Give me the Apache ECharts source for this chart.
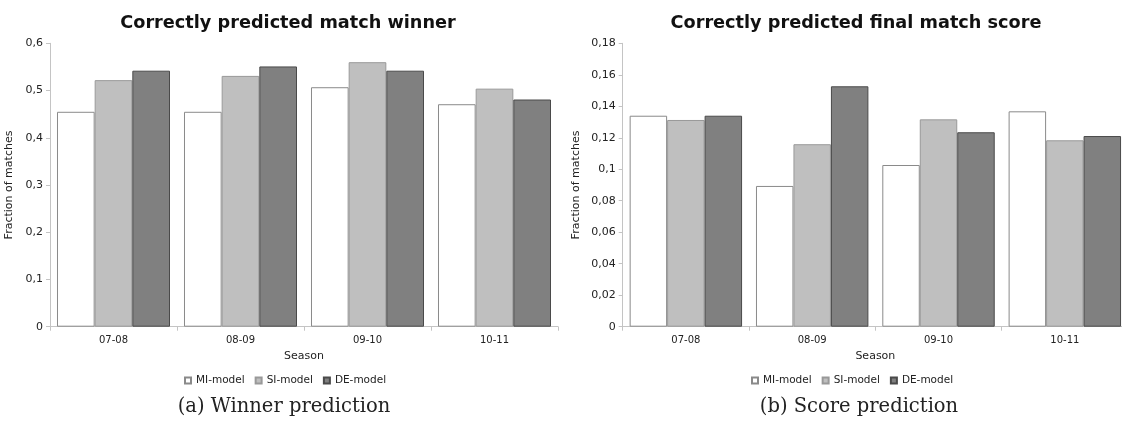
<!DOCTYPE html>
<html><head><meta charset="utf-8">
<script src="https://cdn.jsdelivr.net/npm/echarts@6/dist/echarts.min.js"></script>
<style>html,body{margin:0;padding:0;background:#fff;overflow:hidden}#c{width:1130px;height:425px}</style>
</head><body><div id="c"></div>
<script>
const seasons = ['07-08','08-09','09-10','10-11'];
const winnerMI = [0.455, 0.455, 0.507, 0.471];
const winnerSI = [0.522, 0.531, 0.560, 0.504];
const winnerDE = [0.542, 0.551, 0.542, 0.481];
const scoreMI = [0.134, 0.0894, 0.1027, 0.1368];
const scoreSI = [0.1313, 0.1159, 0.1317, 0.1184];
const scoreDE = [0.134, 0.1527, 0.1235, 0.1211];
const seriesNames = ['MI-model','SI-model','DE-model'];

const fmt = v => v === 0 ? '0' : String(Math.round(v*1000)/1000).replace('.', ',');
const styles = [
  {color:'#ffffff', borderColor:'#8a8a8a', borderWidth:1},
  {color:'#bfbfbf', borderColor:'#999999', borderWidth:1},
  {color:'#808080', borderColor:'#4a4a4a', borderWidth:1}
];
const font = '"DejaVu Sans", Arial, sans-serif';
function xAx(gi){ return {
  type:'category', gridIndex:gi, data:seasons, name:'Season', nameLocation:'middle', nameGap:24,
  nameTextStyle:{fontFamily:font,fontSize:11,color:'#222'},
  axisLine:{lineStyle:{color:'#c4c4c4'}}, axisTick:{show:true,length:4,lineStyle:{color:'#c4c4c4'}},
  axisLabel:{fontFamily:font,fontSize:10,color:'#222',margin:9}
};}
function yAx(gi,max,interval,gap){ return {
  type:'value', gridIndex:gi, min:0, max:max, interval:interval, name:'Fraction of matches',
  nameLocation:'middle', nameGap:gap, nameRotate:90,
  nameTextStyle:{fontFamily:font,fontSize:11,color:'#222'},
  splitLine:{show:false},
  axisLine:{show:true,lineStyle:{color:'#c4c4c4'}}, axisTick:{show:true,length:4,lineStyle:{color:'#c4c4c4'}},
  axisLabel:{fontFamily:font,fontSize:11,color:'#222',margin:7,formatter:fmt}
};}
const winnerData=[winnerMI,winnerSI,winnerDE], scoreData=[scoreMI,scoreSI,scoreDE];
const series=[];
[winnerData,scoreData].forEach((set,gi)=>{
  set.forEach((d,i)=>{
    series.push({type:'bar', name:seriesNames[i], xAxisIndex:gi, yAxisIndex:gi, data:d,
      barGap:'0%', barCategoryGap:'11%', itemStyle:styles[i], emphasis:{disabled:true}, animation:false});
  });
});
const legendCommon = {icon:'rect', itemWidth:6, itemHeight:6, itemGap:10, padding:0,
  textStyle:{fontFamily:font,fontSize:10.5,color:'#222'}, data:seriesNames};
const chart = echarts.init(document.getElementById('c'));
chart.setOption({
  animation:false,
  title:[
    {text:'Correctly predicted match winner', left:283, top:9, textAlign:'center',
     textStyle:{fontFamily:font,fontSize:17.7,fontWeight:'bold',color:'#111'}},
    {text:'Correctly predicted final match score', left:851, top:9, textAlign:'center',
     textStyle:{fontFamily:font,fontSize:17.7,fontWeight:'bold',color:'#111'}}
  ],
  legend:[
    Object.assign({left:184, top:375}, legendCommon),
    Object.assign({left:751, top:375}, legendCommon)
  ],
  grid:[
    {left:50, top:43.3, width:508, height:283.4},
    {left:622.7, top:43.3, width:505.3, height:283.4}
  ],
  xAxis:[xAx(0), xAx(1)],
  yAxis:[yAx(0,0.6,0.1,35), yAx(1,0.18,0.02,41)],
  series:series,
  graphic:[
    {type:'text', x:284, y:407, style:{text:'(a) Winner prediction', font:'19.5px "DejaVu Serif", serif', fill:'#222', textAlign:'center', textVerticalAlign:'middle'}},
    {type:'text', x:859, y:407, style:{text:'(b) Score prediction', font:'19.5px "DejaVu Serif", serif', fill:'#222', textAlign:'center', textVerticalAlign:'middle'}}
  ]
});
</script></body></html>
